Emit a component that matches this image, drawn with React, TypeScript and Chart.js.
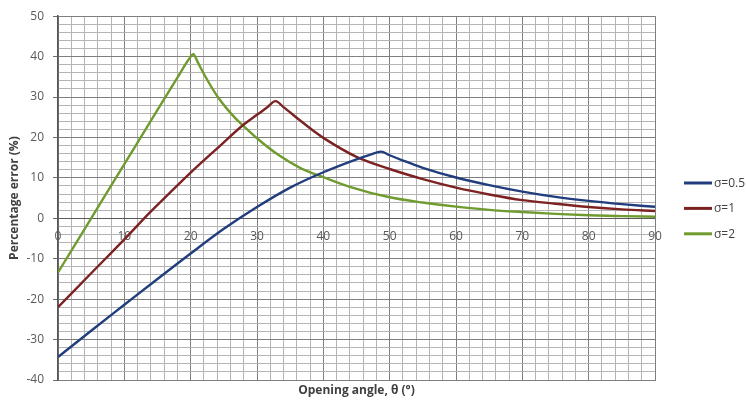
import { useEffect, useRef } from "react";
import { Chart, registerables } from "chart.js";

Chart.register(...registerables);

const seriesLabels = ["σ=0.5", "σ=1", "σ=2"];
const seriesColors = ["#213d7d", "#7d2222", "#6f9b2f"];

const blueAngles = [0, 5, 10, 15, 20, 25, 30, 35, 40, 45, 47, 48.7, 50, 52, 55, 60, 65, 70, 75, 80, 85, 90];
const blueValues = [-34.3, -27.8, -21.4, -15.0, -8.7, -2.6, 2.8, 7.6, 11.4, 14.6, 15.7, 16.5, 15.6, 14.3, 12.5, 10.1, 8.2, 6.6, 5.3, 4.3, 3.5, 2.85];

const redAngles = [0, 5, 10, 13, 15, 20, 24, 28, 30, 31.5, 32.8, 34, 36.5, 38.7, 40, 45, 50, 55, 60, 65, 70, 75, 80, 85, 90];
const redValues = [-22.0, -13.6, -5.2, 0, 3.3, 11.3, 17.3, 23.2, 25.6, 27.4, 29.0, 27.5, 24.2, 21.4, 19.9, 15.2, 12.2, 9.7, 7.6, 5.9, 4.5, 3.6, 2.8, 2.2, 1.8];

const greenAngles = [0, 5, 10, 15, 18, 19.7, 20.4, 21.1, 22.1, 24.1, 26.65, 28, 30, 33.2, 36.7, 40, 44, 50, 55, 60, 65, 70, 75, 80, 85, 90];
const greenValues = [-13.4, 0, 13.4, 26.8, 34.8, 39.3, 40.6, 38.5, 35.4, 30.0, 24.9, 22.8, 19.8, 15.7, 12.3, 10.2, 7.8, 5.2, 3.9, 2.9, 2.1, 1.55, 1.1, 0.75, 0.55, 0.4];

const xTickLabels = ["0", "10", "20", "30", "40", "50", "60", "70", "80", "90"];
const yMajorValues = [-40, -30, -20, -10, 0, 10, 20, 30, 40, 50];
const yTickLabels = ["-40", "-30", "-20", "-10", "0", "10", "20", "30", "40", "50"];

const xTitle = "Opening angle, θ (°)";
const yTitle = "Percentage error (%)";

const FONT = "'Open Sans', 'DejaVu Sans', sans-serif";
const MINOR = "#b4b4b4";
const MAJOR = "#7e7e7e";

function toPoints(xs: number[], ys: number[]) {
  return xs.map((x, i) => ({ x, y: ys[i] }));
}

const legendPlugin = {
  id: "sideLegend",
  afterDraw(chart: any) {
    const ctx = chart.ctx;
    ctx.save();
    chart.data.datasets.forEach((ds: any, i: number) => {
      const y = 183 + i * 25.4;
      ctx.strokeStyle = ds.borderColor;
      ctx.lineWidth = 3;
      ctx.beginPath();
      ctx.moveTo(684, y);
      ctx.lineTo(712, y);
      ctx.stroke();
      ctx.fillStyle = "#404040";
      ctx.font = `12px ${FONT}`;
      ctx.textAlign = "left";
      ctx.textBaseline = "middle";
      ctx.fillText(ds.label, 714, y + 0.5);
    });
    ctx.restore();
  },
};

export default function App() {
  const canvasRef = useRef<HTMLCanvasElement | null>(null);

  useEffect(() => {
    if (!canvasRef.current) return;
    const datasets = [
      { label: seriesLabels[0], data: toPoints(blueAngles, blueValues), borderColor: seriesColors[0] },
      { label: seriesLabels[1], data: toPoints(redAngles, redValues), borderColor: seriesColors[1] },
      { label: seriesLabels[2], data: toPoints(greenAngles, greenValues), borderColor: seriesColors[2] },
    ].map((d) => ({
      ...d,
      backgroundColor: d.borderColor,
      borderWidth: 2.4,
      pointRadius: 0,
      cubicInterpolationMode: "monotone" as const,
      fill: false,
    }));

    const chart = new Chart(canvasRef.current, {
      type: "line",
      data: { datasets },
      plugins: [legendPlugin],
      options: {
        animation: false,
        responsive: false,
        parsing: false as any,
        layout: { padding: { top: 13, right: 91, bottom: 0, left: 0 } },
        plugins: { legend: { display: false }, tooltip: { enabled: false } },
        scales: {
          x: {
            type: "linear",
            position: "bottom",
            min: 0,
            max: 90,
            ticks: { stepSize: 2, display: false },
            grid: {
              drawTicks: false,
              lineWidth: 1,
              color: (c: any) => (Math.round(c.tick.value) % 10 === 0 ? MAJOR : MINOR),
            },
            border: { display: true, color: MAJOR, width: 1 },
            title: {
              display: true,
              text: xTitle,
              color: "#404040",
              font: { family: FONT, size: 12, weight: "bold" },
              padding: { top: 4, bottom: 7.8 },
            },
            afterFit: (s: any) => {
              s.height = 26;
            },
          },
          x0: {
            type: "linear",
            axis: "x",
            position: { y: 0 } as any,
            min: 0,
            max: 90,
            ticks: {
              stepSize: 10,
              padding: 11.5,
              maxRotation: 0,
              autoSkip: false,
              color: "#595959",
              font: { family: FONT, size: 12 },
              callback: (_v: any, i: number) => xTickLabels[i],
            },
            grid: { display: false, drawTicks: false },
            border: { display: false },
            afterFit: (s: any) => {
              s.height = 0;
            },
          },
          y: {
            type: "linear",
            min: -40,
            max: 50,
            ticks: {
              stepSize: 2,
              autoSkip: false,
              padding: 9,
              color: "#595959",
              font: { family: FONT, size: 12 },
              callback: (v: any) => {
                const n = Number(v);
                const idx = yMajorValues.indexOf(Math.round(n));
                return idx >= 0 && Math.abs(n - Math.round(n)) < 1e-6 ? yTickLabels[idx] : "";
              },
            },
            grid: {
              lineWidth: 1,
              tickLength: 5,
              color: (c: any) => {
                const v = Math.round(c.tick.value);
                if (v === 0) return "#5a5a5a";
                return v % 10 === 0 ? MAJOR : MINOR;
              },
              tickColor: (c: any) => (Math.round(c.tick.value) % 10 === 0 ? "#6e6e6e" : "rgba(0,0,0,0)"),
            },
            border: { display: true, color: "#555555", width: 1.5 },
            title: {
              display: true,
              text: yTitle,
              color: "#404040",
              font: { family: FONT, size: 12, weight: "bold" },
              padding: { top: 7.8, bottom: 0 },
            },
            afterFit: (s: any) => {
              s.width = 58;
            },
          },
        },
      } as any,
    });
    return () => chart.destroy();
  }, []);

  return (
    <div style={{ position: "fixed", left: 0, top: 0, width: 746, height: 406, background: "#ffffff" }}>
      <canvas ref={canvasRef} width={746} height={406} />
    </div>
  );
}
